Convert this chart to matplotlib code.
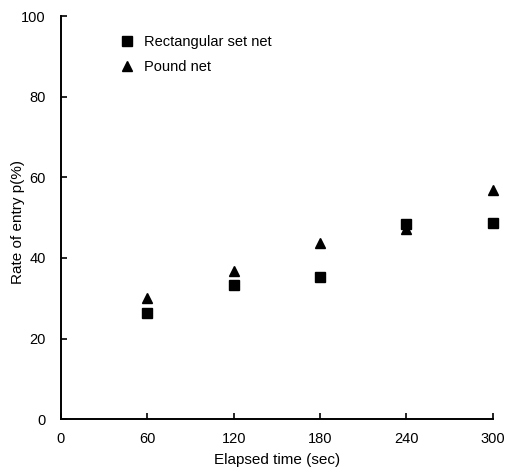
import matplotlib.pyplot as plt

plt.rcParams['font.family'] = ['Liberation Sans', 'DejaVu Sans']

elapsed = [60, 120, 180, 240, 300]
rect_set_net = [26.3, 33.4, 35.3, 48.5, 48.6]
pound_net = [30.0, 36.8, 43.7, 47.2, 56.9]
x_ticks = [0, 60, 120, 180, 240, 300]
y_ticks = [0, 20, 40, 60, 80, 100]

fig = plt.figure(figsize=(5.08, 4.72), dpi=100)
ax = fig.add_axes([0.120, 0.112, 0.850, 0.854])

ax.plot(elapsed, rect_set_net, 's', color='black', markersize=7, label='Rectangular set net')
ax.plot(elapsed, pound_net, '^', color='black', markersize=7, label='Pound net')

ax.set_xlim(0, 300)
ax.set_ylim(0, 100)
ax.set_xticks(x_ticks)
ax.set_yticks(y_ticks)
ax.tick_params(direction='in', length=4, width=1.2, labelsize=10.5)
ax.tick_params(axis='y', pad=11)
ax.tick_params(axis='x', pad=9)
for side in ['top', 'right']:
    ax.spines[side].set_visible(False)
for side in ['left', 'bottom']:
    ax.spines[side].set_linewidth(1.4)
for ln in ax.lines:
    ln.set_clip_on(False)

ax.set_xlabel('Elapsed time (sec)', fontsize=11, labelpad=5)
ax.set_ylabel('Rate of entry p(%)', fontsize=11)
ax.yaxis.set_label_coords(-0.083, 0.49)

ax.legend(loc='upper left', bbox_to_anchor=(0.105, 0.985), frameon=False,
          fontsize=10.5, handletextpad=0.7, labelspacing=0.75, handlelength=1.0)

plt.savefig('out.png', dpi=100)
